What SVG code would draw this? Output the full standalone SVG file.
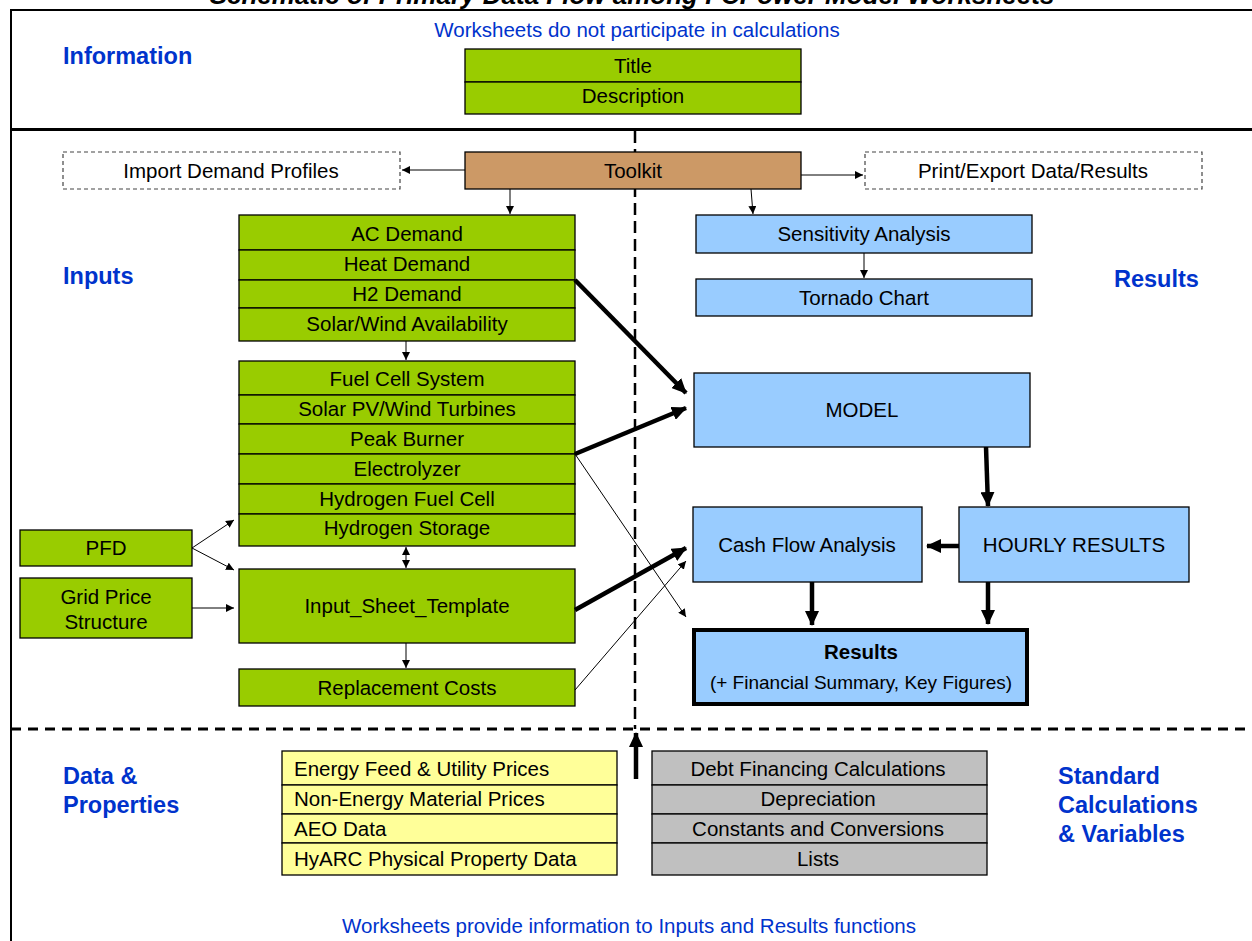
<svg xmlns="http://www.w3.org/2000/svg" width="1252" height="941" viewBox="0 0 1252 941">
<style>
.t{font-family:"Liberation Sans",Arial,sans-serif;font-size:20.5px;fill:#000;text-anchor:middle}
.tl{font-family:"Liberation Sans",Arial,sans-serif;font-size:20.5px;fill:#000;text-anchor:start}
.lbl{font-family:"Liberation Sans",Arial,sans-serif;font-size:23.5px;font-weight:bold;fill:#0033cc}
.note{font-family:"Liberation Sans",Arial,sans-serif;font-size:20.5px;fill:#0033cc;text-anchor:middle}
.g{fill:#99cc00;stroke:#000;stroke-width:1.3}
.b{fill:#99ccff;stroke:#000;stroke-width:1.3}
.y{fill:#ffff99;stroke:#000;stroke-width:1.3}
.gr{fill:#c0c0c0;stroke:#000;stroke-width:1.3}
.dash{fill:#fff;stroke:#444;stroke-width:1.2;stroke-dasharray:4,3}
.thin{stroke:#000;stroke-width:1;fill:none;marker-end:url(#ah)}
.thick{stroke:#000;stroke-width:4.5;fill:none;marker-end:url(#ahb)}
</style>
<defs>
<marker id="ah" markerUnits="userSpaceOnUse" markerWidth="8" markerHeight="8" refX="8" refY="4" orient="auto"><path d="M0,0 L8,4 L0,8 z" fill="#000"/></marker>
<marker id="ahs" markerUnits="userSpaceOnUse" markerWidth="8" markerHeight="8" refX="8" refY="4" orient="auto-start-reverse"><path d="M0,0 L8,4 L0,8 z" fill="#000"/></marker>
<marker id="ahb" markerUnits="userSpaceOnUse" markerWidth="16" markerHeight="14" refX="14" refY="7" orient="auto"><path d="M0,0 L15,7 L0,14 z" fill="#000"/></marker>
</defs>
<rect width="1252" height="941" fill="#fff"/>
<text x="632" y="4" font-family="Liberation Sans,Arial,sans-serif" font-size="26" font-weight="bold" font-style="italic" text-anchor="middle">Schematic of Primary Data Flow among FCPower Model Worksheets</text>
<g id="frame" fill="none" stroke="#000">
<path d="M11,941 V10 H1252" stroke-width="2"/>
<line x1="11" y1="129.5" x2="1252" y2="129.5" stroke-width="3"/>
<line x1="11" y1="729" x2="1252" y2="729" stroke-width="3" stroke-dasharray="10,7"/>
<line x1="635" y1="131" x2="635" y2="729" stroke-width="2.5" stroke-dasharray="12,6"/>
</g>
<g id="labels">
<text class="lbl" x="63" y="64">Information</text>
<text class="lbl" x="63" y="284">Inputs</text>
<text class="lbl" x="1114" y="287">Results</text>
<text class="lbl" x="63" y="784">Data &amp;</text>
<text class="lbl" x="63" y="813">Properties</text>
<text class="lbl" x="1058" y="784">Standard</text>
<text class="lbl" x="1058" y="813">Calculations</text>
<text class="lbl" x="1058" y="842">&amp; Variables</text>
<text class="note" x="637" y="37">Worksheets do not participate in calculations</text>
<text class="note" x="629" y="933">Worksheets provide information to Inputs and Results functions</text>
</g>
<g id="info">
<rect class="g" x="465" y="49" width="336" height="33"/><text class="t" x="633" y="73">Title</text>
<rect class="g" x="465" y="82" width="336" height="32"/><text class="t" x="633" y="103">Description</text>
</g>
<g id="toolkit"><rect x="465" y="152" width="336" height="37" fill="#cc9966" stroke="#000" stroke-width="1.3"/><text class="t" x="633" y="178">Toolkit</text></g>
<g id="import"><rect class="dash" x="63" y="152" width="337" height="37"/><text class="t" x="231" y="178">Import Demand Profiles</text></g>
<g id="print"><rect class="dash" x="865" y="152" width="337" height="37"/><text class="t" x="1033" y="178">Print/Export Data/Results</text></g>
<g id="demand">
<rect class="g" x="239" y="215" width="336" height="35"/><text class="t" x="407" y="241">AC Demand</text>
<rect class="g" x="239" y="250" width="336" height="30"/><text class="t" x="407" y="271">Heat Demand</text>
<rect class="g" x="239" y="280" width="336" height="28"/><text class="t" x="407" y="301">H2 Demand</text>
<rect class="g" x="239" y="308" width="336" height="33"/><text class="t" x="407" y="331">Solar/Wind Availability</text>
</g>
<g id="components">
<rect class="g" x="239" y="361" width="336" height="34"/><text class="t" x="407" y="386">Fuel Cell System</text>
<rect class="g" x="239" y="395" width="336" height="29"/><text class="t" x="407" y="416">Solar PV/Wind Turbines</text>
<rect class="g" x="239" y="424" width="336" height="30"/><text class="t" x="407" y="446">Peak Burner</text>
<rect class="g" x="239" y="454" width="336" height="30"/><text class="t" x="407" y="476">Electrolyzer</text>
<rect class="g" x="239" y="484" width="336" height="30"/><text class="t" x="407" y="506">Hydrogen Fuel Cell</text>
<rect class="g" x="239" y="514" width="336" height="32"/><text class="t" x="407" y="535">Hydrogen Storage</text>
</g>
<g id="pfd"><rect class="g" x="20" y="530" width="172" height="36"/><text class="t" x="106" y="555">PFD</text></g>
<g id="grid"><rect class="g" x="20" y="578" width="172" height="60"/><text class="t" x="106" y="604">Grid Price</text><text class="t" x="106" y="629">Structure</text></g>
<g id="template"><rect class="g" x="239" y="569" width="336" height="74"/><text class="t" x="407" y="613">Input_Sheet_Template</text></g>
<g id="replacement"><rect class="g" x="239" y="669" width="336" height="37"/><text class="t" x="407" y="695">Replacement Costs</text></g>
<g id="sensitivity"><rect class="b" x="696" y="215" width="336" height="38"/><text class="t" x="864" y="241">Sensitivity Analysis</text></g>
<g id="tornado"><rect class="b" x="696" y="279" width="336" height="37"/><text class="t" x="864" y="305">Tornado Chart</text></g>
<g id="model"><rect class="b" x="694" y="373" width="336" height="74"/><text class="t" x="862" y="417">MODEL</text></g>
<g id="cashflow"><rect class="b" x="693" y="507" width="229" height="75"/><text class="t" x="807" y="552">Cash Flow Analysis</text></g>
<g id="hourly"><rect class="b" x="959" y="507" width="230" height="75"/><text class="t" x="1074" y="552">HOURLY RESULTS</text></g>
<g id="results"><rect x="694" y="630" width="333" height="74" fill="#99ccff" stroke="#000" stroke-width="4"/><text class="t" x="861" y="659" font-weight="bold">Results</text><text class="t" x="861" y="689" style="font-size:19px">(+ Financial Summary, Key Figures)</text></g>
<g id="data">
<rect class="y" x="282" y="751" width="335" height="34"/><text class="tl" x="294" y="776">Energy Feed &amp; Utility Prices</text>
<rect class="y" x="282" y="785" width="335" height="29"/><text class="tl" x="294" y="806">Non-Energy Material Prices</text>
<rect class="y" x="282" y="814" width="335" height="29"/><text class="tl" x="294" y="836">AEO Data</text>
<rect class="y" x="282" y="843" width="335" height="32"/><text class="tl" x="294" y="866">HyARC Physical Property Data</text>
</g>
<g id="standard">
<rect class="gr" x="652" y="751" width="335" height="34"/><text class="t" x="818" y="776">Debt Financing Calculations</text>
<rect class="gr" x="652" y="785" width="335" height="29"/><text class="t" x="818" y="806">Depreciation</text>
<rect class="gr" x="652" y="814" width="335" height="29"/><text class="t" x="818" y="836">Constants and Conversions</text>
<rect class="gr" x="652" y="843" width="335" height="32"/><text class="t" x="818" y="866">Lists</text>
</g>
<g id="connectors">
<line class="thin" x1="465" y1="170" x2="402" y2="170"/>
<line class="thin" x1="801" y1="175" x2="863" y2="175"/>
<line class="thin" x1="510" y1="189" x2="510" y2="214"/>
<line class="thin" x1="751" y1="189" x2="753" y2="214"/>
<line class="thin" x1="864" y1="253" x2="864" y2="278"/>
<line class="thin" x1="406" y1="341" x2="406" y2="360"/>
<line x1="406" y1="547" x2="406" y2="568" stroke="#000" stroke-width="1" marker-start="url(#ahs)" marker-end="url(#ah)"/>
<line class="thin" x1="406" y1="643" x2="406" y2="668"/>
<line class="thin" x1="192" y1="548" x2="234" y2="520"/>
<line class="thin" x1="192" y1="548" x2="234" y2="570"/>
<line class="thin" x1="192" y1="608" x2="234" y2="608"/>
<line class="thin" x1="575" y1="454" x2="686" y2="617"/>
<line class="thin" x1="575" y1="690" x2="686" y2="561"/>
<line class="thick" x1="575" y1="280" x2="686" y2="393"/>
<line class="thick" x1="575" y1="454" x2="686" y2="408"/>
<line class="thick" x1="575" y1="610" x2="686" y2="548"/>
<line class="thick" x1="986" y1="447" x2="988" y2="506"/>
<line class="thick" x1="959" y1="546" x2="927" y2="546"/>
<line class="thick" x1="812" y1="582" x2="812" y2="625"/>
<line class="thick" x1="988" y1="582" x2="988" y2="624"/>
<line class="thick" x1="636" y1="779" x2="636" y2="733"/>
</g>
</svg>
